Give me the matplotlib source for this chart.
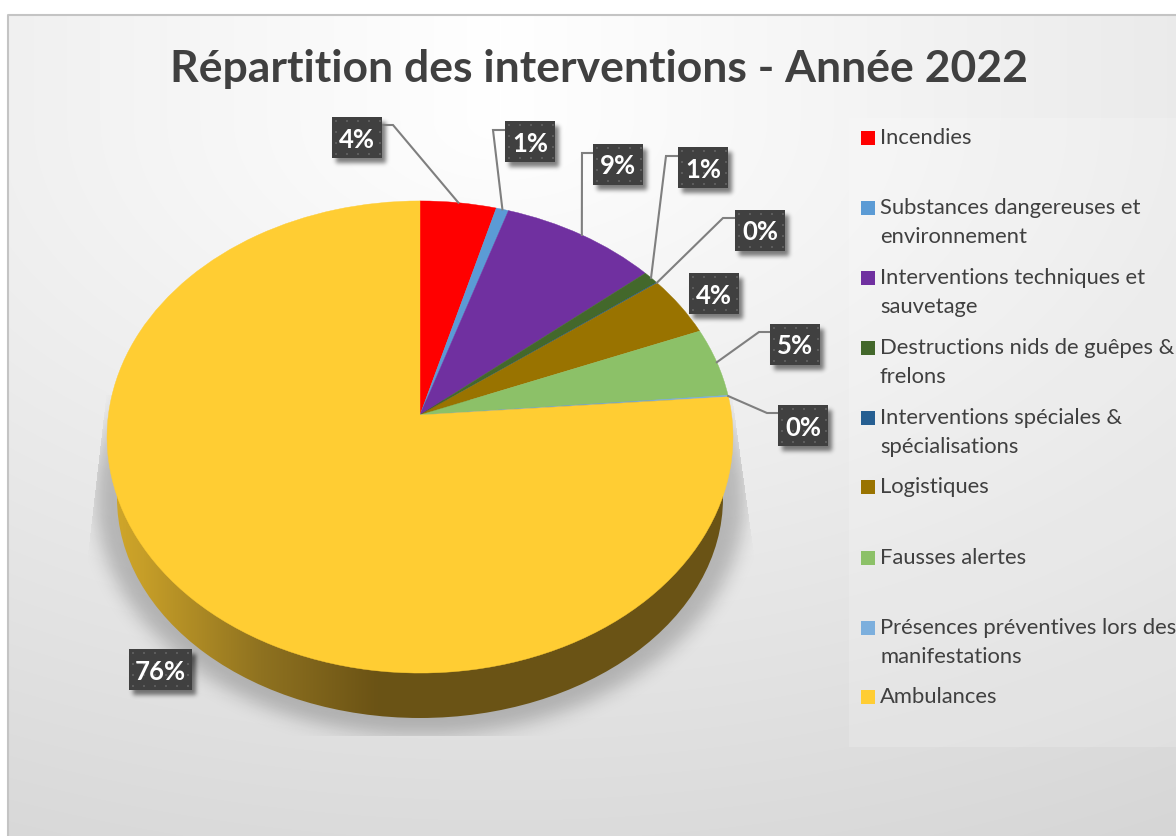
import numpy as np
import matplotlib
matplotlib.use("Agg")
import matplotlib.pyplot as plt
from matplotlib.patches import Rectangle, Ellipse
from matplotlib.transforms import Transform

# ---- data ----
title = "Répartition des interventions - Année 2022"
categories = ["Incendies", "Substances dangereuses et\nenvironnement",
              "Interventions techniques et\nsauvetage",
              "Destructions nids de guêpes &\nfrelons",
              "Interventions spéciales &\nspécialisations", "Logistiques",
              "Fausses alertes", "Présences préventives lors des\nmanifestations",
              "Ambulances"]
values = [4.3, 0.7, 8.9, 0.9, 0.05, 4.1, 4.7, 0.1, 76.25]
colors = ["#FF0000", "#5B9BD5", "#7030A0", "#43682B", "#255E91", "#997300",
          "#8CC168", "#7CAFDD", "#FFCD33"]

# ---- layout (pixels) ----
W, H = 1176, 836
CX, CY = 420.0, 415.0
HY, AX_, K = 234.0, 311.6, 0.0932
label_boxes = [(332, 117, 50), (505, 121, 50), (593, 144, 50), (678, 147, 50),
               (735, 210, 50), (689, 273, 50), (770, 324, 50), (778, 405, 50),
               (129, 649, 63)]
BOX_H = 41
leader_elbows = [(393, 125), (493, 130), (582, 153), (666, 156), (723, 218),
                 None, (759, 332), (767, 413), None]
leader_starts = [(382, 125), (505, 130), (593, 153), (678, 156), (735, 218),
                 None, (770, 332), (778, 413), None]
legend_y = [137, 207, 277, 347, 417, 486, 557, 627, 696]

plt.rcParams["font.family"] = ["Lato", "DejaVu Sans"]
TXT = "#404040"


class Persp(Transform):
    """Tilted-disc projection of the unit pie into pixel coordinates."""
    input_dims = output_dims = 2
    is_separable = False
    has_inverse = False

    def transform_non_affine(self, xy):
        xy = np.asarray(xy, float)
        d = 1 + K * xy[:, 1]
        return np.column_stack((CX + AX_ * xy[:, 0] / d, CY - HY * xy[:, 1] / d))


persp = Persp()


def blur(a, sigma):
    fy = np.fft.fftfreq(a.shape[0])[:, None]
    fx = np.fft.rfftfreq(a.shape[1])[None, :]
    g = np.exp(-2 * (np.pi * sigma) ** 2 * (fx ** 2 + fy ** 2))
    return np.fft.irfft2(np.fft.rfft2(a) * g, s=a.shape)


fig = plt.figure(figsize=(W / 100, H / 100), dpi=100, facecolor="white")
ax = fig.add_axes([0, 0, 1, 1])

# pie first (it resets limits and aspect, restored below)
wedges, _ = ax.pie(values, colors=colors, startangle=90, counterclock=False,
                   radius=1, center=(0, 0), frame=False,
                   wedgeprops=dict(linewidth=0.3, zorder=5))
for w, c in zip(wedges, colors):
    w.set_edgecolor(c)
    w.set_transform(persp + ax.transData)
ax.set_aspect("auto")
ax.axis("off")

yy, xx = np.mgrid[0:H, 0:W]

# background gradient
bg = 255 - np.hypot(0.03 * (xx - 500), 0.05 * np.clip(yy - 120, 0, None))
bg = np.clip(bg, 0, 255) / 255
ax.imshow(np.dstack([bg] * 3)[15:, 8:], extent=(8, W, H, 15), zorder=0, aspect="auto")
ax.plot([8, 8, W], [H, 15, 15], color="#c4c4c4", lw=1.5, zorder=0.5)

# soft shadows: pie and label boxes
pie_sh = blur((((xx - 420) / 325.0) ** 2 + ((yy - 495) / 240.0) ** 2 <= 1).astype(float), 9)
left = np.where(yy < 550, 103 - (yy - 420) * 15 / 130.0, 88)
right = np.where(yy < 550, 735 + (yy - 420) * 18 / 130.0, 753)
pie_sh = pie_sh * (xx >= left) * (xx <= right) * (yy <= 735) * (yy >= 395)
box_mask = np.zeros((H, W))
for (x, y, w_) in label_boxes:
    box_mask[y + 5:y + BOX_H + 5, x + 4:x + w_ + 4] = 1
box_sh = blur(box_mask, 2.2)
alpha = np.clip(0.22 * pie_sh + 0.5 * box_sh, 0, 1)
ax.imshow(np.dstack([np.zeros((H, W))] * 3 + [alpha]), extent=(0, W, H, 0), zorder=1, aspect="auto")

# side wall of the disc
stops_x = [108, 143, 260, 377, 735]
stops_c = np.array([[0xD2, 0xA8, 0x2A], [0xC6, 0x9E, 0x28], [0x8F, 0x72, 0x20],
                    [0x6B, 0x53, 0x15], [0x6A, 0x53, 0x16]]) / 255
gx = np.arange(100, 745)
grad = np.column_stack([np.interp(gx, stops_x, stops_c[:, i]) for i in range(3)])[None, :, :]
wall = ax.imshow(grad, extent=(100, 745, 730, 400), zorder=2, aspect="auto")
wall.set_clip_path(Ellipse((420, 498), 606, 440, transform=ax.transData))

# leader lines, ending on the rim at the middle of each slice
cum = np.cumsum([0] + values)
for i, (el, st) in enumerate(zip(leader_elbows, leader_starts)):
    if el is None:
        continue
    a = np.deg2rad((cum[i] + cum[i + 1]) / 2 / cum[-1] * 360)
    end = persp.transform_non_affine(np.array([[np.sin(a), np.cos(a)]]))[0]
    ax.plot([st[0], el[0], end[0]], [st[1], el[1], end[1]], color="#7f7f7f", lw=1.5, zorder=6,
            solid_joinstyle="miter")

# label boxes
for v, (x, y, w_) in zip(values, label_boxes):
    ax.add_patch(Rectangle((x, y), w_, BOX_H, fc="#404040", ec="none", zorder=7))
    dx, dy = np.meshgrid(np.arange(x + 4, x + w_, 11), np.arange(y + 4, y + BOX_H, 11))
    ax.plot(dx.ravel(), dy.ravel(), ls="none", marker="s", ms=1.6, mew=0, color="#5c5c5c", zorder=7.5)
    ax.text(x + w_ / 2, y + BOX_H / 2 + 2, f"{round(v)}%", color="white", fontsize=18.5, fontweight="bold",
            ha="center", va="center", zorder=8)

# legend
ax.add_patch(Rectangle((849, 118), W - 849, 629, fc="white", alpha=0.18, ec="none", zorder=3))
for cat, col, y in zip(categories, colors, legend_y):
    ax.add_patch(Rectangle((861, y - 6), 14, 14, fc=col, ec="none", zorder=4))
    ax.text(880, y - 9, cat, color=TXT, fontsize=15.8, va="top", ha="left", linespacing=1.55, zorder=4)

ax.text(599, 69, title, color=TXT, fontsize=32, fontweight="bold", ha="center", va="center", zorder=4)

ax.set_xlim(0, W)
ax.set_ylim(H, 0)
fig.savefig("out.png", dpi=100)
